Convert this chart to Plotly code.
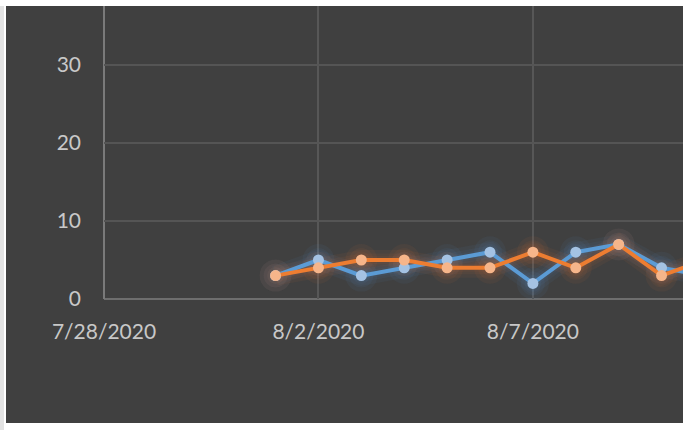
import plotly.graph_objects as go

# data
dates = ["2020-08-01", "2020-08-02", "2020-08-03", "2020-08-04", "2020-08-05",
         "2020-08-06", "2020-08-07", "2020-08-08", "2020-08-09", "2020-08-10",
         "2020-08-11"]
blue_vals = [3, 5, 3, 4, 5, 6, 2, 6, 7, 4, 3]
orange_vals = [3, 4, 5, 5, 4, 4, 6, 4, 7, 3, 5]

BLUE = "#5B9BD5"
ORANGE = "#ED7D31"

fig = go.Figure()

# soft glow under each series
for vals, glow in [(blue_vals, "rgba(91,155,213,0.06)"), (orange_vals, "rgba(237,125,49,0.06)")]:
    for lw, ms in [(20, 32), (13, 24), (8, 17)]:
        fig.add_trace(go.Scatter(x=dates, y=vals, mode="lines+markers",
                                 line=dict(color=glow, width=lw),
                                 marker=dict(color=glow, size=ms),
                                 hoverinfo="skip", showlegend=False))

fig.add_trace(go.Scatter(x=dates, y=blue_vals, mode="lines+markers", name="Series 1",
                         line=dict(color=BLUE, width=4),
                         marker=dict(color="#A4C2E3", size=11)))
fig.add_trace(go.Scatter(x=dates, y=orange_vals, mode="lines+markers", name="Series 2",
                         line=dict(color=ORANGE, width=4),
                         marker=dict(color="#F6B58A", size=11)))

# dark chart area
fig.add_shape(type="rect", xref="paper", yref="paper",
              x0=(6 - 104) / 579, x1=1.0, y0=(299 - 423) / 293, y1=1.0,
              fillcolor="#404040", line=dict(width=0), layer="below")
fig.add_shape(type="rect", xref="paper", yref="paper",
              x0=(0 - 104) / 579, x1=(4 - 104) / 579, y0=(299 - 430) / 293, y1=1.0,
              fillcolor="#E3E3E3", line=dict(width=0), layer="below")

tick_font = dict(family="Lato", size=21, color="#C8C8C8")

fig.update_layout(
    width=683, height=430,
    margin=dict(l=104, r=0, t=6, b=131),
    paper_bgcolor="white",
    plot_bgcolor="rgba(0,0,0,0)",
    showlegend=False,
    xaxis=dict(type="date", range=["2020-07-28", "2020-08-10 12:00"],
               tick0="2020-07-28", dtick=5 * 86400000, tickformat="%-m/%-d/%Y",
               showgrid=True, gridcolor="#575757", gridwidth=1.5,
               showline=False, zeroline=False,
               tickfont=tick_font, ticklabelstandoff=18),
    yaxis=dict(range=[0, 37.56], tickvals=[0, 10, 20, 30],
               showgrid=True, gridcolor="#555555", gridwidth=1.5,
               zeroline=False, showline=False,
               tickfont=tick_font, ticklabelstandoff=22),
)

# axis lines drawn on top of the grid
fig.add_shape(type="line", xref="paper", yref="paper", x0=0, x1=1, y0=0, y1=0,
              line=dict(color="#6E6E6E", width=2), layer="below")
fig.add_shape(type="line", xref="paper", yref="paper", x0=0, x1=0, y0=0, y1=1,
              line=dict(color="#7A7A7A", width=2), layer="below")

fig.write_html("out.html", config={"displayModeBar": False},
               post_script="document.body.style.margin='0';")
